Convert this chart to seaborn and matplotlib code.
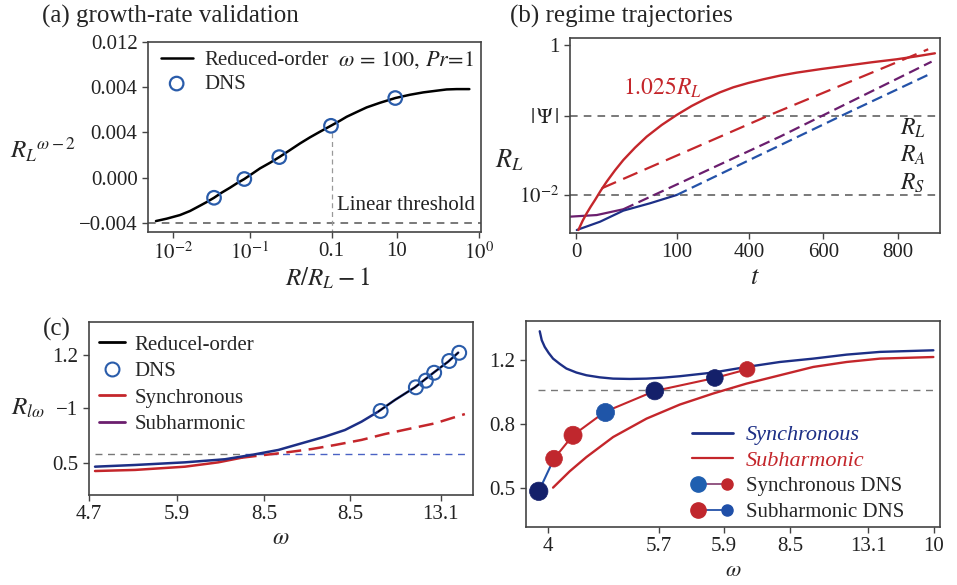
import numpy as np
import pandas as pd
import matplotlib
matplotlib.use("Agg")
import matplotlib.pyplot as plt
import seaborn as sns
from matplotlib.lines import Line2D
from matplotlib.legend_handler import HandlerBase

# ---------------- data ----------------
# (a) growth-rate validation  (x in log-decade coordinate)
a_curve_x = [-2.226, -2.086, -1.913, -1.782, -1.652, -1.565, -1.469, -1.370, -1.261, -1.174,
             -1.074, -0.978, -0.870, -0.739, -0.618, -0.479, -0.348, -0.218, -0.087, 0.056,
             0.173, 0.260, 0.391, 0.521, 0.695, 0.895, 1.086, 1.260, 1.434, 1.564, 1.695, 1.860]
a_curve_y = [-0.00385, -0.00364, -0.00332, -0.00296, -0.00249, -0.00217, -0.00179, -0.00134,
             -0.00090, -0.00052, -0.00013, 0.00031, 0.00081, 0.00131, 0.00181, 0.00243,
             0.00302, 0.00356, 0.00406, 0.00459, 0.00503, 0.00538, 0.00580, 0.00621, 0.00662,
             0.00704, 0.00733, 0.00754, 0.00769, 0.00780, 0.00783, 0.00783]
a_dns_x = [-1.469, -1.074, -0.618, 0.056, 0.894]
a_dns_y = [-0.00179, -0.00013, 0.00181, 0.00458, 0.00704]
a_threshold = -0.004
a_xtick_pos = [-2, -1, 0.065, 0.913, 1.986]
a_xtick_lab = [r"$10^{-2}$", r"$10^{-1}$", "0.1", "10", r"$10^{0}$"]
a_ytick_pos = [-0.004, 0.0, 0.004, 0.008, 0.012]
a_ytick_lab = ["\u22120.004", "0.000", "0.004", "0.004", "0.012"]

# (b) regime trajectories
b_red_t = [-58.5, -46.8, -36.1, -25.3, -13.7, 1.6, 17.7, 40.1, 62.5, 93.9, 125.2, 165.6, 205.9,
           246.2, 286.5, 322.3, 358.2, 398.5, 438.8, 483.6, 528.4, 595.6, 662.8, 730.0, 797.2,
           851.0, 900.3]
b_red_R = [0.00341, 0.00455, 0.00570, 0.00699, 0.00858, 0.01142, 0.01506, 0.02133, 0.02929,
           0.04276, 0.05992, 0.08577, 0.1166, 0.1537, 0.1945, 0.2337, 0.2727, 0.3114, 0.3486,
           0.3902, 0.4276, 0.4786, 0.5302, 0.5875, 0.6442, 0.7063, 0.7745]
b_redd_t = [4.4, 456.7, 882.3]
b_redd_R = [0.01228, 0.1167, 0.877]
b_pur_t = [-80.8, -9.1, 62.4]
b_pur_R = [0.00514, 0.0054, 0.00645]
b_purd_t = [62.4, 483.6, 891.4]
b_purd_R = [0.00645, 0.0599, 0.599]
b_blu_t = [-62.8, -0.2, 62.4, 134.2, 206]
b_blu_R = [0.00341, 0.0044, 0.00618, 0.00775, 0.01]
b_blud_t = [206, 662.9, 886.8]
b_blud_R = [0.01, 0.1228, 0.410]
b_psi = 0.114
b_low = 0.01
b_xtick_pos = [-65, 206, 401, 600, 800]
b_xtick_lab = ["0", "100", "400", "600", "800"]

# (c)
c_blue_x = [0.069, 0.526, 1.097, 1.554, 1.859, 2.164, 2.430, 2.697, 2.926, 3.116, 3.307, 3.497,
            3.726, 3.954, 4.107, 4.221]
c_blue_y = [0.478, 0.489, 0.506, 0.526, 0.554, 0.586, 0.629, 0.672, 0.715, 0.769, 0.834, 0.909,
            0.991, 1.092, 1.157, 1.215]
c_dns_x = [3.334, 3.737, 3.851, 3.946, 4.118, 4.232]
c_dns_y = [0.838, 0.991, 1.034, 1.085, 1.161, 1.214]
c_red_x = [0.069, 0.526, 1.097, 1.478, 1.745]
c_red_y = [0.450, 0.457, 0.478, 0.506, 0.536]
c_redd_x = [1.745, 2.011, 2.240, 2.545, 2.811, 3.116, 3.383, 3.688, 3.954, 4.297]
c_redd_y = [0.536, 0.554, 0.569, 0.592, 0.618, 0.651, 0.689, 0.726, 0.758, 0.818]
c_thr = 0.558
c_xtick_pos = [0, 1.006, 2.0, 2.983, 4.023]
c_xtick_lab = ["4.7", "5.9", "8.5", "8.5", "13.1"]
c_ytick_pos = [0.5, 0.859, 1.2]
c_ytick_lab = ["0.5", "\u22121", "1.2"]

# (d)
d_sync_x = [-0.123, -0.092, -0.046, 0.015, 0.082, 0.185, 0.287, 0.441, 0.595, 0.800, 1.005,
            1.262, 1.518, 1.774, 2.031, 2.543, 3.057, 3.569, 4.082, 4.595, 5.108, 5.928]
d_sync_y = [1.377, 1.321, 1.279, 1.241, 1.206, 1.173, 1.144, 1.119, 1.102, 1.089, 1.081,
            1.079, 1.081, 1.087, 1.096, 1.119, 1.154, 1.185, 1.206, 1.231, 1.248, 1.258]
d_sub_x = [0.082, 0.338, 0.595, 1.005, 1.518, 2.031, 2.543, 3.057, 3.569, 4.082, 4.595, 5.108, 5.928]
d_sub_y = [0.400, 0.502, 0.591, 0.716, 0.831, 0.919, 0.988, 1.050, 1.102, 1.154, 1.185, 1.206, 1.216]
d_dns_x = [-0.138, 0.097, 0.389, 0.877, 1.646, 2.569, 3.066]
d_dns_y = [0.377, 0.581, 0.727, 0.873, 1.004, 1.085, 1.139]
d_dns_kind = ["navy", "red", "red", "blue", "navy", "navy", "red"]
d_thr = 1.007
d_xtick_pos = [0, 1.712, 2.707, 3.728, 4.923, 5.933]
d_xtick_lab = ["4", "5.7", "5.9", "8.5", "13.1", "10"]
d_ytick_pos = [0.4, 0.8, 1.2]
d_ytick_lab = ["0.5", "0.8", "1.2"]

# ---------------- style ----------------
sns.set_theme(style="ticks")
plt.rcParams["font.family"] = ["Liberation Serif", "DejaVu Serif"]
plt.rcParams["mathtext.fontset"] = "stix"
plt.rcParams["lines.solid_joinstyle"] = "round"
plt.rcParams["lines.solid_capstyle"] = "round"

RED = "#c4262b"
NAVY = "#1d2f86"
BLUE = "#2a5caa"
DNAVY = "#14206a"
PURPLE = "#6b1e6e"
GREY = "#555555"
TICKFS = 15
LEGFS = 14.5

fig = plt.figure(figsize=(9.57, 5.85), dpi=100)
W, H = 957, 585


def add_ax(l, r, t, b):
    return fig.add_axes([l / W, 1 - b / H, (r - l) / W, (b - t) / H])


def style_ax(ax):
    for s in ax.spines.values():
        s.set_visible(True)
        s.set_color("#444444")
        s.set_linewidth(1.2)
    ax.tick_params(axis="both", which="both", direction="out", length=4.5, width=1.0,
                   labelsize=TICKFS, top=False, right=False, color="#444444",
                   labelcolor="#222222", pad=3)
    ax.tick_params(axis="both", which="minor", length=0)
    ax.set_facecolor("white")


def line(ax, x, y, **kw):
    sns.lineplot(x=x, y=y, ax=ax, sort=False, estimator=None, **kw)


# ---------------- (a) ----------------
axa = add_ax(148, 481, 42, 232)
style_ax(axa)
axa.axhline(a_threshold, color=GREY, lw=1.1, ls=(0, (5, 4)), zorder=1)
axa.plot([a_dns_x[3] + 0.01] * 2, [a_threshold - 0.001, a_dns_y[3] - 0.0004], color="#999999",
         lw=0.9, ls=(0, (4, 3)), zorder=1)
line(axa, a_curve_x, a_curve_y, color="black", lw=1.8, label="Reduced-order")
sns.scatterplot(x=a_dns_x, y=a_dns_y, ax=axa, marker="o", s=95, facecolor="none",
                edgecolor=BLUE, linewidth=1.6, label="DNS", zorder=4)
axa.set_xlim(-2.33, 2.012)
axa.set_ylim(-0.00482, 0.01199)
axa.set_xticks(a_xtick_pos, a_xtick_lab)
axa.set_yticks(a_ytick_pos, a_ytick_lab)
axa.text(0.14, -0.0033, "Linear threshold", fontsize=LEGFS + 0.5, ha="left", va="bottom",
         color="#222222")
axa.text(1.93, 0.0104, r"$\omega\,=\,100,\, Pr\!=\!1$", fontsize=LEGFS + 1.5, ha="right",
         va="center", color="#222222")
axa.legend(loc="upper left", bbox_to_anchor=(0.0, 1.02), frameon=False, fontsize=LEGFS + 0.5,
           handlelength=1.55, handletextpad=0.55, labelspacing=0.2, borderaxespad=0.3,
           borderpad=0.3)
axa.set_xlabel(r"$R/R_L-1$", fontsize=18, va="center")
axa.xaxis.set_label_coords(0.54, -0.242)
axa.set_ylabel(r"$R_L{}^{\omega-2}$", fontsize=18, rotation=0, va="center", ha="center")
axa.yaxis.set_label_coords(-0.315, 0.43)
fig.text(42 / W, 1 - 16 / H, "(a) growth-rate validation", fontsize=18, ha="left", va="center")

# ---------------- (b) ----------------
axb = add_ax(570, 940, 38, 233)
style_ax(axb)
axb.set_yscale("log")
axb.axhline(b_psi, color=GREY, lw=1.1, ls=(0, (5, 4)), zorder=1)
axb.axhline(b_low, color=GREY, lw=1.1, ls=(0, (5, 4)), zorder=1)
line(axb, b_pur_t, b_pur_R, color=PURPLE, lw=1.6)
line(axb, b_purd_t, b_purd_R, color=PURPLE, lw=1.6, linestyle=(0, (5, 2.5)))
line(axb, b_blu_t, b_blu_R, color=NAVY, lw=1.6)
line(axb, b_blud_t, b_blud_R, color="#2452a8", lw=1.6, linestyle=(0, (5, 2.5)))
line(axb, b_redd_t, b_redd_R, color=RED, lw=1.6, linestyle=(0, (7, 3.5)))
line(axb, b_red_t, b_red_R, color=RED, lw=1.7)
axb.set_xlim(-81, 914)
axb.set_ylim(10 ** -2.507, 10 ** 0.093)
axb.set_xticks(b_xtick_pos, b_xtick_lab)
axb.set_yticks([1, b_psi, b_low], ["1", r"$|\,\Psi\,|$", r"$10^{-2}$"])
axb.yaxis.set_minor_locator(matplotlib.ticker.NullLocator())
axb.text(61.6, 0.267, r"$1.025R_L$", color=RED, fontsize=17, ha="left", va="center")
axb.text(841, 0.0782, r"$R_L$", fontsize=17, ha="center", va="center", color="#222222")
axb.text(841, 0.0341, r"$R_A$", fontsize=17, ha="center", va="center", color="#222222")
axb.text(841, 0.0145, r"$R_S$", fontsize=17, ha="center", va="center", color="#222222")
axb.set_xlabel(r"$t$", fontsize=19, va="center")
axb.xaxis.set_label_coords(0.5, -0.231)
axb.set_ylabel(r"$R_L$", fontsize=19, rotation=0, va="center", ha="center")
axb.yaxis.set_label_coords(-0.165, 0.374)
fig.text(510 / W, 1 - 16 / H, "(b) regime trajectories", fontsize=18, ha="left", va="center")

# ---------------- (c) ----------------
axc = add_ax(89, 473, 322, 495)
style_ax(axc)
axc.plot([0.069, 1.78], [c_thr, c_thr], color="#777777", lw=1.0, ls=(0, (5, 4)), zorder=1)
axc.plot([1.78, 4.30], [c_thr, c_thr], color="#4a62c4", lw=1.0, ls=(0, (5, 4)), zorder=1)
line(axc, c_red_x, c_red_y, color=RED, lw=1.8)
line(axc, c_redd_x, c_redd_y, color=RED, lw=1.8, linestyle=(0, (6, 3)))
line(axc, c_blue_x, c_blue_y, color=NAVY, lw=1.8)
tail = [i for i, v in enumerate(c_blue_x) if v >= 3.3]
line(axc, [c_blue_x[i] for i in tail], [c_blue_y[i] for i in tail], color="black", lw=0.9)
sns.scatterplot(x=c_dns_x, y=c_dns_y, ax=axc, marker="o", s=100, facecolor="none",
                edgecolor=BLUE, linewidth=1.5, zorder=4)
axc.set_xlim(0, 4.39)
axc.set_ylim(0.295, 1.413)
axc.set_xticks(c_xtick_pos, c_xtick_lab)
axc.set_yticks(c_ytick_pos, c_ytick_lab)
hc = [Line2D([], [], color="black", lw=2),
      Line2D([], [], ls="none", marker="o", ms=10, mfc="none", mec=BLUE, mew=1.5),
      Line2D([], [], color=RED, lw=2),
      Line2D([], [], color=PURPLE, lw=2)]
axc.legend(hc, ["Reducel-order", "DNS", "Synchronous", "Subharmonic"], loc="upper left",
           bbox_to_anchor=(0.0, 0.985), frameon=False, fontsize=LEGFS + 0.5, handlelength=1.25,
           handletextpad=0.45, labelspacing=0.33, borderaxespad=0.2, borderpad=0.3)
axc.set_xlabel(r"$\omega$", fontsize=17, va="center")
axc.xaxis.set_label_coords(0.5, -0.249)
axc.set_ylabel(r"$R_{l\omega}$", fontsize=18, rotation=0, va="center", ha="center")
axc.yaxis.set_label_coords(-0.16, 0.5)
fig.text(43 / W, 1 - 329 / H, "(c)", fontsize=18, ha="left", va="center")

# ---------------- (d) ----------------
axd = add_ax(526, 940, 321, 527)
style_ax(axd)
axd.axhline(d_thr, xmin=0.03, xmax=0.985, color="#777777", lw=1.0, ls=(0, (5, 4)), zorder=1)
line(axd, d_sync_x, d_sync_y, color=NAVY, lw=1.7)
line(axd, d_sub_x, d_sub_y, color=RED, lw=1.7)
line(axd, d_dns_x[:2], d_dns_y[:2], color="#2452a8", lw=1.5)
line(axd, d_dns_x[1:], d_dns_y[1:], color=RED, lw=1.5)
cmap = {"navy": DNAVY, "red": "#c0272d", "blue": "#1f55a8"}
sizes = [175, 145, 170, 170, 165, 145, 125]
dns_df = pd.DataFrame({"x": d_dns_x, "y": d_dns_y, "kind": d_dns_kind, "sz": sizes})
for kind, g in dns_df.groupby("kind"):
    sns.scatterplot(data=g, x="x", y="y", ax=axd, s=g["sz"].values, color=cmap[kind],
                    edgecolor=cmap[kind], linewidth=0.5, zorder=5, legend=False)
axd.set_xlim(-0.334, 6.03)
axd.set_ylim(0.154, 1.441)
axd.set_xticks(d_xtick_pos, d_xtick_lab)
axd.set_yticks(d_ytick_pos, d_ytick_lab)
axd.set_xlabel(r"$\omega$", fontsize=16, va="center")
axd.xaxis.set_label_coords(0.5, -0.215)
axd.set_ylabel("")


class PairHandler(HandlerBase):
    def __init__(self, c1, c2, lc):
        super().__init__()
        self.c1, self.c2, self.lc = c1, c2, lc

    def create_artists(self, legend, orig_handle, xdescent, ydescent, width, height,
                       fontsize, trans):
        y = height / 2 - ydescent
        x0 = -xdescent + width * 0.15
        x1 = -xdescent + width * 0.85
        ln = Line2D([x0, x1], [y, y], color=self.lc, lw=1.3, transform=trans)
        m1 = Line2D([x0], [y], ls="none", marker="o", ms=11, mfc=self.c1, mec=self.c1,
                    transform=trans)
        m2 = Line2D([x1], [y], ls="none", marker="o", ms=8, mfc=self.c2, mec=self.c2,
                    transform=trans)
        return [ln, m1, m2]


h1 = Line2D([], [], color=NAVY, lw=2)
h2 = Line2D([], [], color=RED, lw=1.6)
h3 = Line2D([], [])
h4 = Line2D([], [])
leg = axd.legend([h1, h2, h3, h4], ["Synchronous", "Subharmonic", "Synchronous DNS", "Subharmonic DNS"],
                 handler_map={h3: PairHandler("#1f5fb0", "#c0272d", "#8a4a7a"),
                              h4: PairHandler("#c0272d", "#1f4fa8", "#2452a8")},
                 loc="upper left", bbox_to_anchor=(0.355, 0.585), frameon=False,
                 fontsize=LEGFS + 0.5, handlelength=2.0, handletextpad=0.6, labelspacing=0.3)
texts = leg.get_texts()
texts[0].set_color(NAVY)
texts[0].set_fontstyle("italic")
texts[1].set_color(RED)
texts[1].set_fontstyle("italic")
for t in texts[:2]:
    t.set_fontsize(16)

fig.savefig("out.png", dpi=100, facecolor="white")
